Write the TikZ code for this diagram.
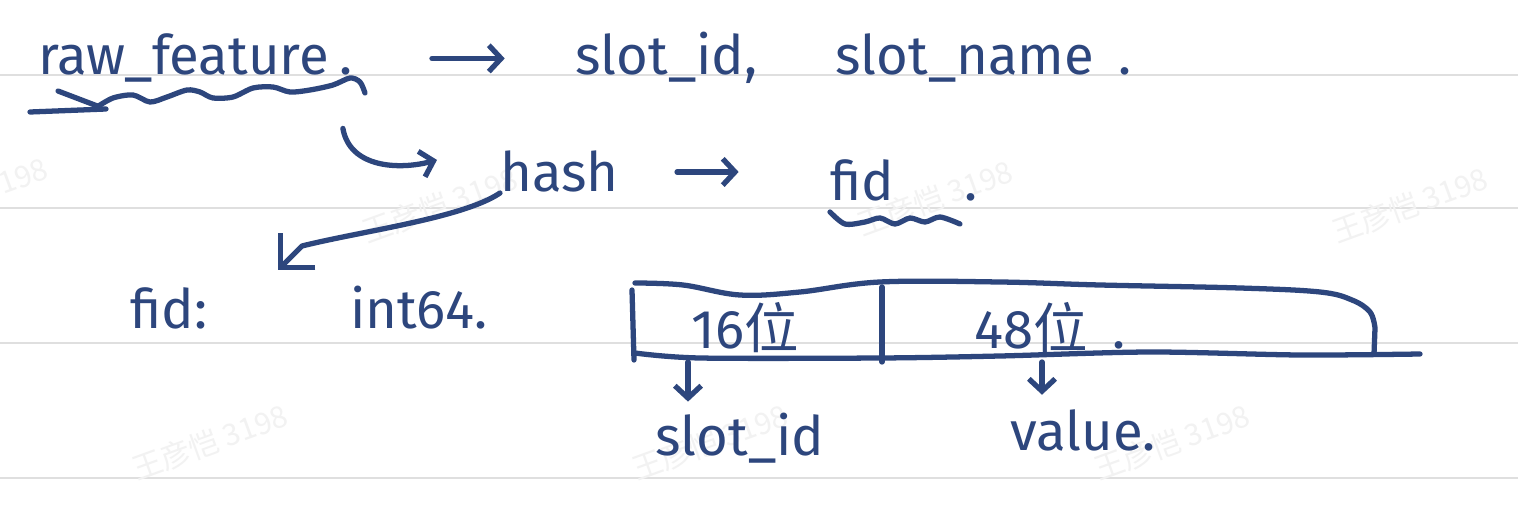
\documentclass[tikz,border=0pt]{standalone}
\usepackage{fontspec}
\setmainfont{Fira Sans}
\newfontfamily\cjk{Noto Sans CJK SC}
\usetikzlibrary{arrows.meta, positioning, calc}
\definecolor{inkblue}{RGB}{45,70,125}
\tikzset{
  ink/.style={draw=inkblue, line width=3pt, line cap=round, line join=round},
  arr/.style={ink, -{Straight Barb[length=7pt,width=15pt]}},
  hooktip/.style={ink, -{Straight Barb[length=14pt,width=28pt]}},
  word/.style={inner sep=0pt, anchor=base west, text=inkblue, font=\fontsize{31}{36}\selectfont},
  cell/.style={inner sep=0pt, text=inkblue, font=\fontsize{31}{36}\selectfont},
  rule/.style={draw=gray!25, line width=1pt},
  wmark/.style={text=gray!10, font=\cjk\fontsize{17}{20}\selectfont, rotate=20}
}

\begin{document}
\begin{tikzpicture}[x=0.02cm, y=-0.02cm]
    \fill[white, use as bounding box] (0,0) rectangle (1518,510);
    % Ruled lines and watermarks
    \foreach \ry in {75,208,343,478}
        \draw[rule] (0,\ry) -- (1518,\ry);
    \foreach \wx/\wy in {210/442, 440/205, 710/442, 935/198, 1410/205, 1172/442, -30/195}
        \node[wmark] at (\wx,\wy) {王彦恺 3198};

    % Nodes
    \node[word] (raw) at (38,75) {raw\_feature\hspace{6pt}.};
    \node[word] (slotid) at (575,75) {slot\_id,};
    \node[word] (slotname) at (835,75) {slot\_name\hspace{14pt}.};
    \node[word] (hash) at (500,192) {hash};
    \node[word] (fid) at (830,200) {fid\hspace{40pt}.};
    \node[word] (fidk) at (130,328) {fid:};
    \node[word] (fidv) at (350,328) {int64.};
    \node[cell] (c16) at (745,328) {16{\cjk 位}};
    \node[cell] (c48) at (1050,328) {48{\cjk 位}\hspace{14pt}.};
    \node[word] (sid) at (655,455) {slot\_id};
    \node[word] (val) at (1010,450) {value.};
    \coordinate (fidtip) at (278,270);
    \coordinate (a16) at (688,362);
    \coordinate (a48) at (1042,362);

    % Underlines
    \draw[ink] (30,112) -- (106,109);
    \draw[ink] (58,91) -- (100,107);
    \draw[ink] plot[smooth] coordinates {(97,107) (113,98) (133,95) (150,102) (167,97) (187,90) (200,92) (213,98) (233,97) (253,88) (273,87) (290,92) (310,90) (333,85) (350,78) (360,82) (365,93)};
    \draw[ink] plot[smooth] coordinates {(830,212) (845,224) (865,222) (880,218) (895,224) (910,218) (925,222) (940,217) (960,224)};

    % Field box
    \draw[ink] plot[smooth, tension=0.6] coordinates {(635,283) (683,285) (740,295) (800,292) (880,282) (1000,282) (1100,285) (1240,288) (1320,292) (1352,300) (1370,312) (1375,328)} -- (1374,354);
    \draw[ink] (632,290) -- (634,360);
    \draw[ink] plot[smooth] coordinates {(635,353) (700,358) (880,358) (1000,356) (1150,352) (1300,355) (1420,354)};
    \draw[ink] (882,287) -- (882,362);

    % Arrows
    \draw[arr, shorten <=45pt, shorten >=40pt] (raw.east) -- (raw.east -| slotid.west);
    \draw[arr] ($(raw.east)+(-10,70)$) .. controls +(7,40) and +(-37,10) .. ($(hash.west)+(-63,-12)$);
    \draw[arr, shorten <=33pt, shorten >=52pt] (hash.east) -- (hash.east -| fid.west);
    \draw[hooktip] (hash.south west) .. controls +(-37,25) and +(60,-15) .. ($(fidtip)+(24,-24)$) -- (fidtip);
    \draw[arr, shorten >=6pt] (a16) -- (a16 |- sid.north);
    \draw[arr, shorten >=8pt] (a48) -- (a48 |- val.north);
\end{tikzpicture}
\end{document}
